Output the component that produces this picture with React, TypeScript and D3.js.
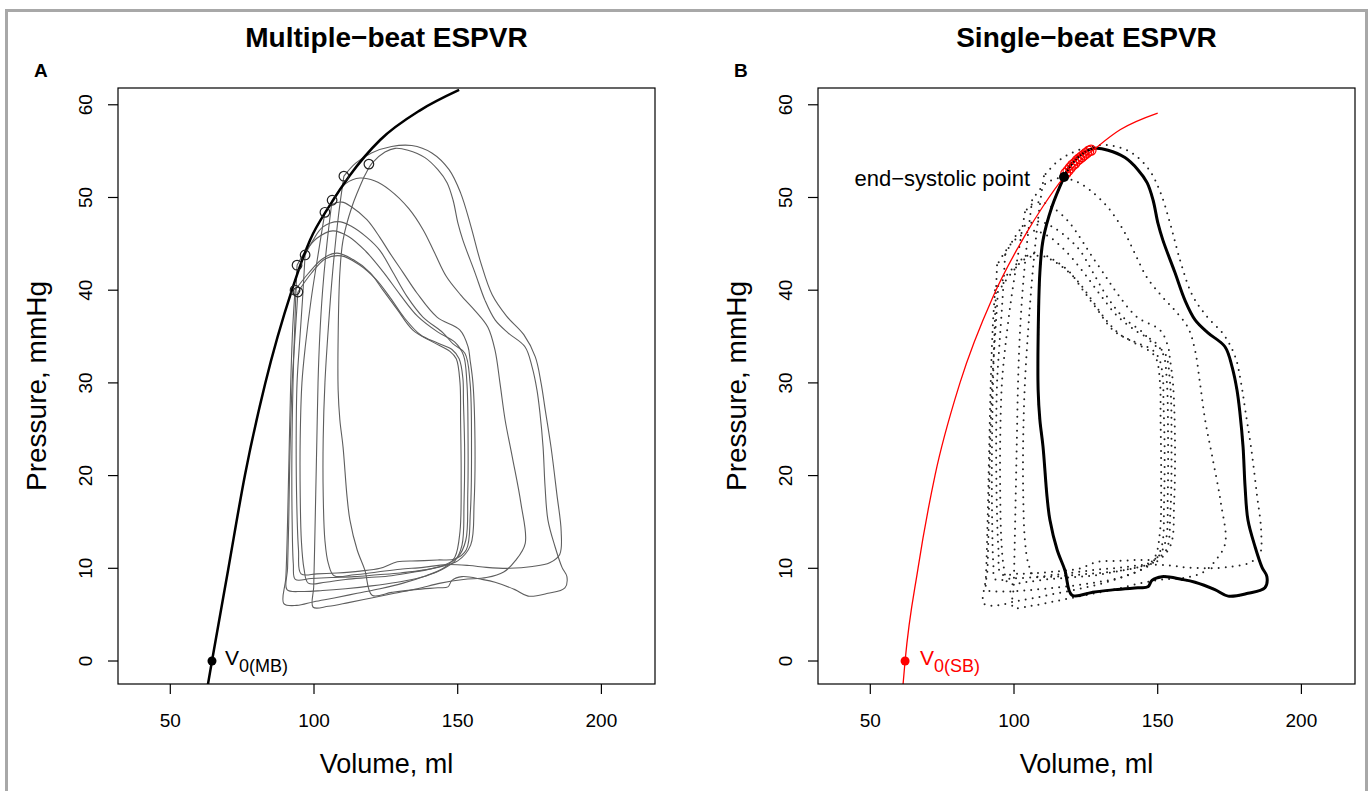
import React from "react";
import * as d3 from "d3";

// axis ticks
const xTicks = [50, 100, 150, 200];
const yTicks = [0, 10, 20, 30, 40, 50, 60];

// multiple-beat ESPVR curve (volume, pressure)
const espvrMB = [
  [63.1, -2.5], [64.5, 0], [70.1, 9.8], [76.0, 20.1], [83.0, 29.9], [92.3, 40.0],
  [98.6, 45.4], [105.6, 49.2], [112.5, 52.4], [123.0, 56.2], [136.9, 59.4], [150.5, 61.6],
];
// single-beat ESPVR curve
const espvrSB = [
  [61.4, -2.5], [62.1, 0], [66.6, 10], [72.5, 20], [81.2, 30], [92.7, 39.3], [104, 46.0],
  [110, 49.0], [117.4, 52.2], [122, 53.7], [127.5, 55.1], [136.9, 57.3], [150, 59.1],
];

// end-systolic points of each beat
const esPointsMB = [
  [93.4, 40.0], [94.4, 39.8], [94.1, 42.7], [96.9, 43.8],
  [103.8, 48.4], [106.3, 49.7], [110.4, 52.3], [119.1, 53.6],
];
const esPointsSB = [
  [118.0, 52.6], [118.8, 52.9], [119.6, 53.2], [120.4, 53.5], [121.2, 53.7], [122.0, 54.0],
  [122.8, 54.2], [123.6, 54.4], [124.4, 54.6], [125.2, 54.8], [126.0, 55.0], [126.8, 55.1],
];
const esPointSingle = [117.4, 52.2];
const v0MB = [64.5, 0];
const v0SB = [62.1, 0];

// pressure-volume loops
const beat1 = [
  [93.4, 40.0], [92.6, 36], [91.9, 30], [91.3, 22], [90.8, 15], [90.2, 9], [89.5, 6.2],
  [94, 6.0], [100, 6.4], [107, 6.8], [115, 7.3], [123, 7.8], [131, 8.4], [139, 9.2], [145, 10.0], [149, 11.2],
  [150.8, 14], [151.2, 20], [151, 26], [150.8, 30], [149.5, 32.6],
  [147.3, 33.4], [141.4, 34.4], [134.4, 35.7], [129, 37.9], [124, 40.0], [119.5, 41.9], [113.6, 43.3],
  [108, 44.0], [103, 43.4], [98, 41.8], [93.4, 40.0],
];
const beat2 = [
  [94.4, 39.8], [93.4, 35], [92.4, 30], [91.6, 22], [91.2, 15], [90.8, 10], [90.6, 7.7],
  [96, 7.5], [103, 7.6], [111, 7.8], [120, 8.1], [129, 8.5], [137, 9.0], [144, 9.8], [149, 10.8], [151.5, 12.5],
  [152.2, 17], [152.4, 23], [152, 28], [151.8, 30.5], [150.5, 32.6],
  [148, 33.6], [143, 34.3], [137, 35.2], [131.5, 37.0], [126.5, 39.2], [121.5, 41.2], [115.5, 42.8],
  [109.5, 43.7], [104, 43.4], [99, 41.8], [94.4, 39.8],
];
const beat3 = [
  [94.1, 42.7], [93.5, 38], [92.7, 30], [92.3, 22], [92.4, 15], [92.8, 10.5], [93.5, 8.8],
  [99, 8.9], [106, 9.0], [114, 9.1], [122, 9.3], [130, 9.5], [138, 9.8], [145, 10.3], [150, 11.2], [152.8, 13],
  [153.5, 18], [153.6, 24], [153.2, 30], [152, 33],
  [149, 34.4], [143, 35.5], [136, 37.2], [130, 39.5], [124, 42], [118, 44.2], [112, 45.8],
  [106.5, 46.4], [101, 45.6], [97, 44.2], [94.1, 42.7],
];
const beat4 = [
  [96.9, 43.8], [96, 39], [94.9, 34], [94.1, 30], [93.8, 24], [94, 17], [94.6, 12], [95.5, 9.4],
  [101, 9.4], [108, 9.5], [116, 9.7], [123, 10.0], [129, 10.7], [136, 10.8], [143, 10.9], [149, 11.0], [153, 12],
  [154.4, 16], [154.8, 23], [154.3, 30], [152.5, 33.2],
  [148.4, 34.2], [144.9, 35.4], [137.9, 37.1], [132.4, 39.3], [127.5, 41.9], [122.9, 44.3], [118.4, 45.7],
  [113, 46.9], [108.5, 47.4], [103, 46.8], [99.5, 45.3], [96.9, 43.8],
];
const beat5 = [
  [103.8, 48.4], [101.5, 44], [99, 39], [97, 34], [95.8, 30], [95.2, 24], [95.2, 18], [95.6, 13], [96.5, 10], [98, 8.4],
  [104, 8.5], [111, 8.8], [119, 9.0], [127, 9.2], [135, 9.6], [143, 10.1], [150, 10.8], [154.5, 12.5],
  [155.7, 17], [156, 24], [155.3, 30], [154.3, 32.5], [153.6, 33.9],
  [150.8, 35.7], [142.8, 37.1], [135.8, 39.7], [131, 41.9], [126.4, 44.0], [122.9, 45.7], [118.4, 47.6],
  [113, 49.0], [109.7, 49.5], [106, 49.2], [103.8, 48.4],
];
const beat6 = [
  [106.3, 49.7], [104.5, 45], [103, 40], [102, 35], [101.4, 30], [101, 24], [100.6, 18], [100.2, 12], [99.9, 8], [99.7, 5.8],
  [105, 5.9], [112, 6.3], [120, 6.8], [128, 7.3], [136, 7.8], [144, 8.4], [152, 8.8], [160, 9.0], [166, 9.6], [170, 10.8], [173.5, 12.7],
  [172, 17], [169, 22], [166.5, 26], [164.7, 30], [163, 33.5], [160.5, 36],
  [156, 37.8], [151, 39.5], [146, 41.5], [142, 44], [138, 46.5], [133, 48.8], [126.4, 50.8],
  [121, 51.8], [116, 52.1], [111, 51.5], [106.3, 49.7],
];
const beat7 = [
  [110.4, 52.3], [108.5, 48], [106.5, 42], [105, 36], [103.8, 30], [103.2, 24], [103.2, 18], [103.8, 13], [105, 10.5], [107, 9.2],
  [114, 9.3], [122, 9.6], [130, 9.9], [138, 10.1], [146, 10.4], [154, 10.3], [160, 10.1], [168, 10.0], [176, 10.2], [182, 10.6], [185.5, 11.5],
  [186, 14], [184.5, 18], [182.5, 23], [180.5, 27], [179, 30], [177, 32.8], [173, 35.2], [167, 37.2], [162, 39.5],
  [158, 43], [154.5, 47], [151, 50.5], [147, 53], [141, 54.8], [134, 55.6], [127, 55.5], [120, 54.8], [114.5, 53.7], [110.4, 52.3],
];
const beat8 = [
  [117.4, 52.2], [113.2, 49.0], [110.1, 45.4], [109.0, 41.9], [108.4, 35], [108.4, 29.2], [109, 26], [110.1, 23.1],
  [111.5, 17.7], [112.5, 15.2], [115.0, 12.0], [117.7, 9.8], [120.2, 7.1],
  [127.1, 7.4], [135.1, 7.7], [143.1, 7.9], [146.6, 8.0], [148.0, 8.7], [151.5, 9.1], [158.5, 8.8], [163.0, 8.5],
  [169.9, 7.7], [174.5, 7.0], [181.4, 7.3], [187.3, 7.9], [188.0, 9.1], [186.3, 10.1], [183.9, 12.3],
  [181.4, 15.2], [180.4, 18.8], [179.7, 23.1], [178.6, 26.8], [177.6, 29.2], [175.9, 31.7], [173.4, 33.9],
  [167.5, 35.4], [163.0, 36.8], [159.5, 38.9], [156.0, 41.9], [151.8, 45.4], [150.1, 47.2], [148.4, 49.7],
  [146.3, 51.6], [143.1, 53.0], [138.6, 54.3], [132.7, 55.1], [128.2, 55.3], [124.7, 54.9], [120.2, 53.7], [117.4, 52.2],
];
const beats = [beat1, beat2, beat3, beat4, beat5, beat6, beat7, beat8];

const font = "'Liberation Sans', Arial, Helvetica, sans-serif";
const plotW = 537;
const plotTop = 88;
const plotBottom = 684;

const Panel = ({ left, single }: { left: number; single: boolean }) => {
  const x = d3.scaleLinear().domain([31.8, 218.65]).range([left, left + plotW]);
  const y = d3.scaleLinear().domain([-2.48, 61.81]).range([plotBottom, plotTop]);
  const loopLine = d3
    .line<number[]>()
    .x((d) => x(d[0]))
    .y((d) => y(d[1]))
    .curve(d3.curveCatmullRom.alpha(0.5));
  const fitLine = d3
    .line<number[]>()
    .x((d) => x(d[0]))
    .y((d) => y(d[1]))
    .curve(d3.curveMonotoneX);
  const cx = left + plotW / 2;
  const clipId = single ? "clipB" : "clipA";

  return (
    <g fontFamily={font}>
      <defs>
        <clipPath id={clipId}>
          <rect x={left} y={plotTop} width={plotW} height={plotBottom - plotTop} />
        </clipPath>
      </defs>
      <text x={cx} y={47} textAnchor="middle" fontSize={28} fontWeight="bold">
        {single ? "Single\u2212beat ESPVR" : "Multiple\u2212beat ESPVR"}
      </text>
      <text x={left - 84} y={77} fontSize={19} fontWeight="bold">
        {single ? "B" : "A"}
      </text>

      <g clipPath={`url(#${clipId})`}>
        {beats.map((b, i) =>
          single ? (
            <path
              key={i}
              d={loopLine(b) || ""}
              fill="none"
              stroke="#222"
              strokeWidth={2}
              strokeLinecap="round"
              strokeDasharray="0 7"
            />
          ) : (
            <path key={i} d={loopLine(b) || ""} fill="none" stroke="#5e5e5e" strokeWidth={1.1} />
          )
        )}
        {single && (
          <path d={loopLine(beat8) || ""} fill="none" stroke="#000" strokeWidth={3} strokeLinejoin="round" />
        )}
        <path
          d={fitLine(single ? espvrSB : espvrMB) || ""}
          fill="none"
          stroke={single ? "#ff0000" : "#000"}
          strokeWidth={single ? 1.3 : 2.5}
        />
        {(single ? esPointsSB : esPointsMB).map((p, i) => (
          <circle
            key={i}
            cx={x(p[0])}
            cy={y(p[1])}
            r={single ? 5 : 4.8}
            fill="none"
            stroke={single ? "#ff0000" : "#222"}
            strokeWidth={1.2}
          />
        ))}
        {single && <circle cx={x(esPointSingle[0])} cy={y(esPointSingle[1])} r={5} fill="#000" />}
        {single ? (
          <circle cx={x(v0SB[0])} cy={y(v0SB[1])} r={4.5} fill="#ff0000" />
        ) : (
          <circle cx={x(v0MB[0])} cy={y(v0MB[1])} r={4.5} fill="#000" />
        )}
      </g>

      {single ? (
        <>
          <text x={x(v0SB[0]) + 15} y={y(0) + 4} fontSize={21} fill="#ff0000">
            V<tspan fontSize={18} dy={7}>0(SB)</tspan>
          </text>
          <text x={x(esPointSingle[0]) - 34} y={y(esPointSingle[1]) + 9} fontSize={22} textAnchor="end">
            end{"\u2212"}systolic point
          </text>
        </>
      ) : (
        <text x={x(v0MB[0]) + 13} y={y(0) + 4} fontSize={21}>
          V<tspan fontSize={18} dy={7}>0(MB)</tspan>
        </text>
      )}

      <rect
        x={left}
        y={plotTop}
        width={plotW}
        height={plotBottom - plotTop}
        fill="none"
        stroke="#000"
        strokeWidth={1.2}
      />
      {xTicks.map((t) => (
        <g key={t}>
          <line x1={x(t)} x2={x(t)} y1={plotBottom} y2={plotBottom + 10} stroke="#000" strokeWidth={1.2} />
          <text x={x(t)} y={727} textAnchor="middle" fontSize={19}>
            {t}
          </text>
        </g>
      ))}
      {yTicks.map((t) => (
        <g key={t}>
          <line x1={left} x2={left - 10} y1={y(t)} y2={y(t)} stroke="#000" strokeWidth={1.2} />
          <text
            transform={`translate(${left - 26},${y(t)}) rotate(-90)`}
            textAnchor="middle"
            fontSize={19}
          >
            {t}
          </text>
        </g>
      ))}
      <text x={cx} y={773} textAnchor="middle" fontSize={27}>
        Volume, ml
      </text>
      <text
        transform={`translate(${left - 72},${(plotTop + plotBottom) / 2}) rotate(-90)`}
        textAnchor="middle"
        fontSize={28}
      >
        Pressure, mmHg
      </text>
    </g>
  );
};

export default function App() {
  return (
    <div style={{ position: "absolute", left: 0, top: 0, background: "#fff" }}>
      <svg width={1372} height={791} style={{ display: "block" }}>
        <rect x={0} y={0} width={1372} height={791} fill="#fff" />
        <rect x={6.5} y={10.5} width={1360} height={800} fill="none" stroke="#a8a8a8" strokeWidth={3} />
        <Panel left={118} single={false} />
        <Panel left={818} single={true} />
      </svg>
    </div>
  );
}
